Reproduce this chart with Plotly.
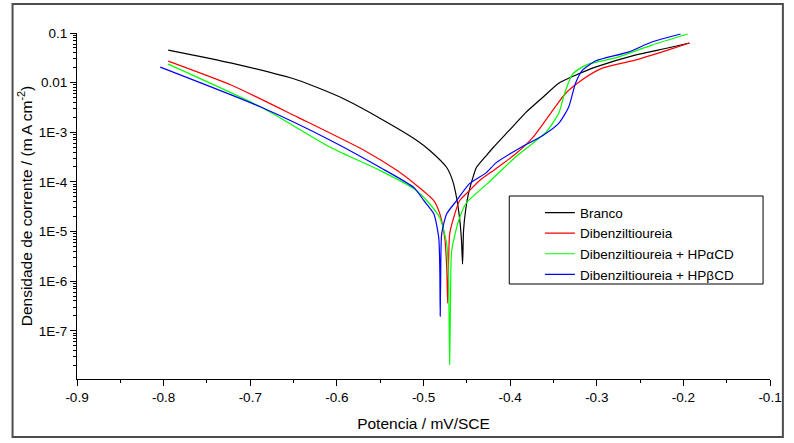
import plotly.graph_objects as go

# ---- data (potential in V vs SCE, current density in mA cm^-2) ----
branco_x = [-0.7947, -0.7215, -0.6449, -0.5957, -0.5499, -0.5076, -0.4927, -0.4732, -0.4664, -0.4618,
            -0.4584, -0.4561, -0.4549, -0.4538, -0.4515, -0.4481, -0.4423, -0.4389, -0.4275, -0.4195,
            -0.4011, -0.3817, -0.3622, -0.3439, -0.3245, -0.3016, -0.2558, -0.2181, -0.1929]
branco_y = [4.53e-2, 2.47e-2, 1.12e-2, 5.07e-3, 1.90e-3, 6.84e-4, 4.29e-4, 1.95e-4, 1.06e-4, 4.8e-5,
            1.9e-5, 6.5e-6, 2.2e-6, 1.03e-5, 2.6e-5, 5.8e-5, 1.34e-4, 1.95e-4, 3.4e-4, 4.94e-4,
            1.09e-3, 2.52e-3, 5.07e-3, 9.73e-3, 1.41e-2, 2.05e-2, 3.59e-2, 4.98e-2, 6.29e-2]

dbt_x = [-0.7947, -0.7215, -0.6449, -0.5682, -0.5304, -0.5076, -0.4881, -0.4812, -0.4755, -0.4732,
         -0.4721, -0.4710, -0.4698, -0.4652, -0.4584, -0.4469, -0.4355, -0.4160, -0.3931, -0.3737,
         -0.3508, -0.3359, -0.3176, -0.2936, -0.2558, -0.2181, -0.1929]
dbt_y = [2.72e-2, 8.87e-3, 2.0e-3, 4.3e-4, 1.69e-4, 8.4e-5, 4.18e-5, 2.28e-5, 7.5e-6, 1.85e-6,
         3.6e-7, 2.56e-6, 9.0e-6, 1.9e-5, 4.18e-5, 6.67e-5, 1.06e-4, 1.86e-4, 3.73e-4, 7.87e-4,
         2.77e-3, 6.11e-3, 1.12e-2, 1.96e-2, 2.84e-2, 4.53e-2, 6.29e-2]

alfa_x = [-0.7947, -0.6872, -0.6071, -0.5499, -0.5110, -0.4961, -0.4812, -0.4732, -0.4710, -0.4698,
          -0.4687, -0.4675, -0.4595, -0.4504, -0.4263, -0.3931, -0.3588, -0.3439, -0.3394, -0.3359,
          -0.3279, -0.3188, -0.3096, -0.2753, -0.2364, -0.1952]
alfa_y = [2.36e-2, 3.19e-3, 4.94e-4, 1.69e-4, 7.31e-5, 4.18e-5, 1.9e-5, 5.65e-6, 8.7e-7, 2.1e-8,
          6.3e-7, 4.07e-6, 1.65e-5, 3.81e-5, 9.22e-5, 3.25e-4, 9.93e-4, 2.41e-3, 4.41e-3, 7.03e-3,
          1.48e-2, 1.96e-2, 2.36e-2, 3.27e-2, 5.71e-2, 9.54e-2]

beta_x = [-0.8039, -0.6872, -0.6071, -0.5499, -0.5110, -0.4995, -0.4881, -0.4824, -0.4812, -0.4807,
          -0.4801, -0.4790, -0.4732, -0.4618, -0.4469, -0.4275, -0.4160, -0.3897, -0.3622, -0.3439,
          -0.3325, -0.3245, -0.3165, -0.3016, -0.2638, -0.2364, -0.2032]
beta_y = [2.05e-2, 3.19e-3, 6.84e-4, 1.95e-4, 7.66e-5, 4.18e-5, 2.28e-5, 7.46e-6, 1.85e-6, 1.97e-7,
          1.6e-6, 9.0e-6, 2.28e-5, 4.18e-5, 9.22e-5, 1.54e-4, 2.45e-4, 4.71e-4, 8.63e-4, 1.51e-3,
          3.19e-3, 9.73e-3, 1.78e-2, 2.72e-2, 4.13e-2, 6.58e-2, 9.54e-2]

series_names = ["Branco", "Dibenziltioureia", "Dibenziltioureia + HPαCD", "Dibenziltioureia + HPβCD"]
series_colors = ["#000000", "#FF0000", "#00FF00", "#0000FF"]

y_tickvals = [1e-1, 1e-2, 1e-3, 1e-4, 1e-5, 1e-6, 1e-7]
y_ticktext = ["0.1", "0.01", "1E-3", "1E-4", "1E-5", "1E-6", "1E-7"]
x_tickvals = [-0.9, -0.8, -0.7, -0.6, -0.5, -0.4, -0.3, -0.2, -0.1]
x_ticktext = ["-0.9", "-0.8", "-0.7", "-0.6", "-0.5", "-0.4", "-0.3", "-0.2", "-0.1"]

y_minor = [k * 10.0 ** e for e in range(-8, -1) for k in range(2, 10)]

FONT = "Liberation Sans, Arial, sans-serif"

fig = go.Figure()
for xs, ys, name, col in zip([branco_x, dbt_x, alfa_x, beta_x],
                             [branco_y, dbt_y, alfa_y, beta_y],
                             series_names, series_colors):
    fig.add_trace(go.Scatter(x=xs, y=ys, mode="lines", name=name,
                             line=dict(color=col, width=1.2, shape="spline", smoothing=0.6)))

fig.update_layout(
    width=794, height=443, autosize=False,
    margin=dict(l=77, r=18, t=33, b=64),
    paper_bgcolor="white", plot_bgcolor="white",
    font=dict(family=FONT, size=13, color="black"),
    showlegend=True,
    legend=dict(x=0.668, y=0.525, xanchor="left", yanchor="top",
                bgcolor="rgba(0,0,0,0)", borderwidth=0,
                font=dict(family=FONT, size=13.5), tracegroupgap=0),
)

fig.update_xaxes(
    range=[-0.9, -0.1], tickmode="array", tickvals=x_tickvals, ticktext=x_ticktext,
    showline=True, linecolor="black", linewidth=1, mirror=False,
    ticks="outside", ticklen=6, tickcolor="black", showgrid=False, zeroline=False,
    minor=dict(dtick=0.05, tick0=-0.9, ticks="outside", ticklen=3, tickcolor="black", showgrid=False),
    title=dict(text="Potencia / mV/SCE", font=dict(size=15.5), standoff=13),
    tickfont=dict(size=13.5),
)
fig.update_yaxes(
    type="log", range=[-7.97, -1.0], tickmode="array", tickvals=y_tickvals, ticktext=y_ticktext,
    showline=True, linecolor="black", linewidth=1, mirror=False,
    ticks="outside", ticklen=6, tickcolor="black", showgrid=False, zeroline=False,
    minor=dict(tickmode="array", tickvals=y_minor, ticks="outside", ticklen=3,
               tickcolor="black", showgrid=False),
    title=dict(text="Densidade de corrente / (m A cm<sup>-2</sup>)", font=dict(size=15.5), standoff=2),
    tickfont=dict(size=13.5),
)

# legend frame and outer border
fig.add_shape(type="rect", xref="paper", yref="paper",
              x0=(513 - 77) / 699, x1=(769 - 77) / 699, y0=(379 - 284) / 346, y1=(379 - 196) / 346,
              line=dict(color="black", width=1), fillcolor="rgba(0,0,0,0)")
fig.add_shape(type="rect", xref="paper", yref="paper",
              x0=(12 - 77) / 699, x1=(789 - 77) / 699, y0=(379 - 437) / 346, y1=(379 - 4) / 346,
              line=dict(color="#4d4d4d", width=2), fillcolor="rgba(0,0,0,0)")

fig.write_html("out.html", config={"displayModeBar": False},
               post_script="document.body.style.margin='0';document.body.style.padding='0';")
